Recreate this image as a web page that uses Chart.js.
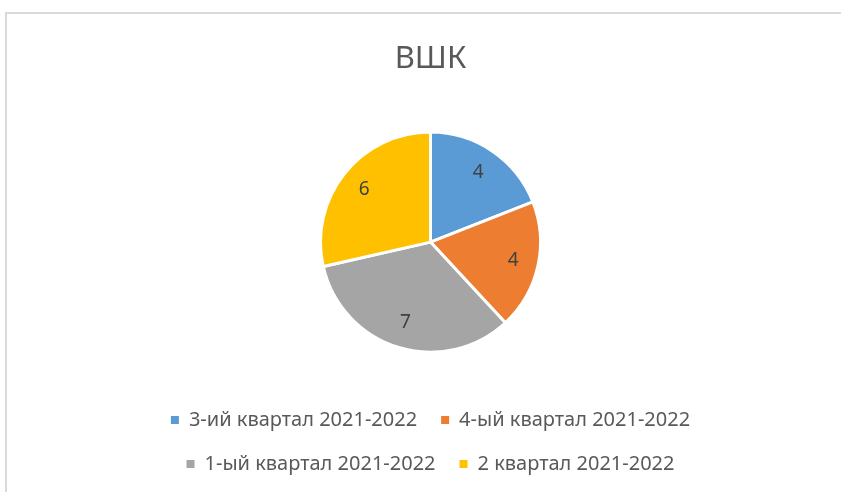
<!DOCTYPE html>
<html>
<head>
<meta charset="utf-8">
<script src="https://cdn.jsdelivr.net/npm/chart.js@4"></script>
<style>
  html, body { margin: 0; padding: 0; background: #fff; overflow: hidden; }
  #frame { position: absolute; left: 5px; top: 12px; width: 900px; height: 600px;
           border-left: 2px solid #d9d9d9; border-top: 2px solid #d9d9d9; }
  #c { position: absolute; left: 0; top: 0; }
</style>
</head>
<body>
<div id="frame"></div>
<canvas id="c" width="841" height="492"></canvas>
<script>
  // Datos del gráfico
  const titulo = 'ВШК';
  const categorias = ['3-ий квартал 2021-2022', '4-ый квартал 2021-2022', '1-ый квартал 2021-2022', '2 квартал 2021-2022'];
  const valores = [4, 4, 7, 6];
  const colores = ['#5B9BD5', '#ED7D31', '#A5A5A5', '#FFC000'];

  const fuente = 'Noto Sans, Liberation Sans, sans-serif';

  // Etiquetas de valor dentro de cada sector
  const etiquetasPlugin = {
    id: 'etiquetas',
    afterDatasetsDraw(chart) {
      const ctx = chart.ctx;
      const meta = chart.getDatasetMeta(0);
      ctx.save();
      ctx.font = '19px ' + fuente;
      ctx.fillStyle = '#404040';
      ctx.textAlign = 'center';
      ctx.textBaseline = 'middle';
      meta.data.forEach((arc, i) => {
        const p = arc.getProps(['x', 'y', 'startAngle', 'endAngle', 'outerRadius']);
        const mid = (p.startAngle + p.endAngle) / 2;
        const r = p.outerRadius * 0.77;
        ctx.fillText(String(valores[i]), p.x + Math.cos(mid) * r, p.y + Math.sin(mid) * r);
      });
      ctx.restore();
    }
  };

  // Cuadros de la leyenda sin borde blanco
  const generarEtiquetas = (chart) =>
    Chart.overrides.pie.plugins.legend.labels.generateLabels(chart)
      .map(item => Object.assign(item, { lineWidth: 0 }));

  const ctx = document.getElementById('c').getContext('2d');
  const grafico = new Chart(ctx, {
    type: 'pie',
    data: {
      labels: categorias,
      datasets: [{
        data: valores,
        backgroundColor: colores,
        borderColor: '#ffffff',
        borderWidth: 3,
        radius: 110
      }]
    },
    options: {
      responsive: false,
      animation: false,
      layout: { padding: { left: 130, right: 110, top: 0, bottom: 8 } },
      plugins: {
        title: {
          display: true,
          text: titulo,
          color: '#595959',
          font: { family: fuente, size: 31, weight: 'normal' },
          padding: { top: 41, bottom: 20 }
        },
        legend: {
          position: 'bottom',
          labels: {
            color: '#595959',
            font: { family: fuente, size: 20 },
            boxWidth: 8,
            boxHeight: 8,
            padding: 24,
            generateLabels: generarEtiquetas
          }
        },
        tooltip: { enabled: false }
      }
    },
    plugins: [etiquetasPlugin]
  });
</script>
</body>
</html>
